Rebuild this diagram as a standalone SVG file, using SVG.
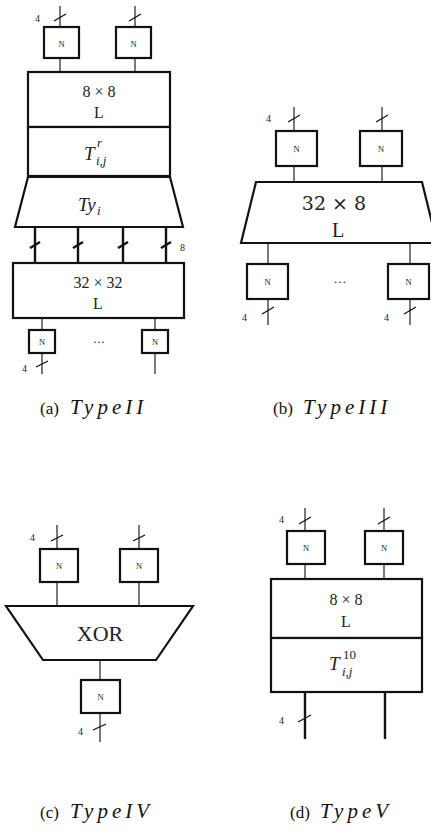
<svg xmlns="http://www.w3.org/2000/svg" width="431" height="834" viewBox="0 0 431 834">
<style>
.box{fill:#fff;stroke:#111;stroke-width:2.2}
.ln{stroke:#333;stroke-width:1.3;fill:none}
.tk{stroke:#111;stroke-width:2.4;fill:none}
.sl{stroke:#111;stroke-width:1.3}
.t{font-family:"Liberation Serif","DejaVu Serif",serif;fill:#222;text-anchor:middle}
.n{font-size:8.5px}
.s{font-size:10px;text-anchor:start}
.st{text-anchor:start}
.it{font-style:italic}
.cap{font-family:"Liberation Serif","DejaVu Serif",serif;font-size:17px;fill:#111}
.ci{font-style:italic;font-size:21px;letter-spacing:4px}
</style>
<rect width="431" height="834" fill="#fff"/>

<g id="connectors">
<path class="ln" d="M60,6V27M135,6V27M60,58V72M135,58V72M42,318V330M155,318V330M42,353V374M155,353V374"/>
<path class="sl" d="M54,21L66,14M129,21L141,14M36,367L48,361"/>
<path class="tk" d="M35,227V263M78,227V263M123,227V263M166,227V263"/>
<path class="tk" d="M30,248L40,242M73,248L83,242M118,248L128,242M161,248L171,242"/>
<path class="ln" d="M294,107V131M382,107V131M294,166V182M382,166V182M268,243V264M410,243V264M268,299V325M410,299V325"/>
<path class="sl" d="M288,122L300,115M376,122L388,115M262,314L274,307M404,314L416,307"/>
<path class="ln" d="M57,525V549M139,525V549M57,582V606M139,582V606M100,660V680M100,713V742"/>
<path class="sl" d="M51,541L63,535M133,541L145,535M93,730L106,724"/>
<path class="ln" d="M305,508V531M384,508V531M305,564V579M384,564V579"/>
<path class="sl" d="M299,524L311,517M378,524L390,517"/>
<path class="tk" d="M305,692V739M385,692V739"/>
<path class="sl" d="M298,722L311,715"/>
</g>

<g id="a-labels">
<text class="t s" x="35" y="22">4</text>
<text class="t s" x="180" y="251">8</text>
<text class="t s" x="22" y="372">4</text>
<text class="t" x="99" y="346" font-size="12">···</text>
</g>
<g id="a-n1"><rect class="box" x="44" y="27" width="35" height="31"/><text class="t n" x="61.5" y="47">N</text></g>
<g id="a-n2"><rect class="box" x="116" y="27" width="35" height="31"/><text class="t n" x="133.5" y="47">N</text></g>
<g id="a-l88"><rect class="box" x="28" y="72" width="142" height="55"/><text class="t" x="99" y="97" font-size="16">8 × 8</text><text class="t" x="99" y="118" font-size="16">L</text></g>
<g id="a-t"><rect class="box" x="28" y="127" width="142" height="49"/><text class="t it st" x="84" y="160" font-size="19">T</text><text class="t it st" x="97" y="147" font-size="13">r</text><text class="t it st" x="96" y="165" font-size="13">i,j</text></g>
<g id="a-ty"><path class="box" d="M28,177H170L183,227H15Z"/><text class="t it st" x="78" y="211" font-size="19">Ty</text><text class="t it st" x="97" y="215" font-size="13">i</text></g>
<g id="a-l3232"><rect class="box" x="13" y="263" width="171" height="55"/><text class="t" x="98" y="288" font-size="16">32 × 32</text><text class="t" x="98" y="309" font-size="16">L</text></g>
<g id="a-n3"><rect class="box" x="29" y="330" width="26" height="23"/><text class="t n" x="42" y="345">N</text></g>
<g id="a-n4"><rect class="box" x="142" y="330" width="26" height="23"/><text class="t n" x="155" y="345">N</text></g>

<g id="b-labels">
<text class="t s" x="266" y="122">4</text>
<text class="t s" x="242" y="321">4</text>
<text class="t s" x="384" y="321">4</text>
<text class="t" x="340" y="286" font-size="13">···</text>
</g>
<g id="b-n1"><rect class="box" x="276" y="131" width="41" height="35"/><text class="t n" x="296.5" y="152">N</text></g>
<g id="b-n2"><rect class="box" x="360" y="131" width="42" height="35"/><text class="t n" x="381" y="152">N</text></g>
<g id="b-l"><path class="box" d="M256,182H422L437,243H241Z"/><text class="t" x="334" y="210" font-size="19" style="font-family:'DejaVu Serif',serif">32 × 8</text><text class="t" x="338" y="237" font-size="20">L</text></g>
<g id="b-n3"><rect class="box" x="247" y="264" width="41" height="35"/><text class="t n" x="267.5" y="285">N</text></g>
<g id="b-n4"><rect class="box" x="388" y="264" width="41" height="35"/><text class="t n" x="408.5" y="285">N</text></g>

<g id="c-labels">
<text class="t s" x="30" y="541">4</text>
<text class="t s" x="78" y="735">4</text>
</g>
<g id="c-n1"><rect class="box" x="40" y="549" width="38" height="33"/><text class="t n" x="59" y="569">N</text></g>
<g id="c-n2"><rect class="box" x="120" y="549" width="38" height="33"/><text class="t n" x="139" y="569">N</text></g>
<g id="c-xor"><path class="box" d="M6,606H193L156,660H43Z"/><text class="t" x="100" y="641" font-size="22">XOR</text></g>
<g id="c-n3"><rect class="box" x="81" y="680" width="39" height="33"/><text class="t n" x="100.5" y="700">N</text></g>

<g id="d-labels">
<text class="t s" x="279" y="523">4</text>
<text class="t s" x="279" y="724">4</text>
</g>
<g id="d-n1"><rect class="box" x="287" y="531" width="38" height="33"/><text class="t n" x="306" y="551">N</text></g>
<g id="d-n2"><rect class="box" x="365" y="531" width="38" height="33"/><text class="t n" x="384" y="551">N</text></g>
<g id="d-l88"><rect class="box" x="271" y="579" width="151" height="59"/><text class="t" x="346" y="605" font-size="16">8 × 8</text><text class="t" x="346" y="627" font-size="16">L</text></g>
<g id="d-t"><rect class="box" x="271" y="638" width="151" height="54"/><text class="t it st" x="329" y="670" font-size="19">T</text><text class="t st" x="343" y="659" font-size="13">10</text><text class="t it st" x="342" y="676" font-size="13">i,j</text></g>

<g id="captions">
<text class="cap" x="40" y="414">(a)</text><text class="cap ci" x="70" y="414">TypeII</text>
<text class="cap" x="273" y="414">(b)</text><text class="cap ci" x="303" y="414">TypeIII</text>
<text class="cap" x="40" y="818">(c)</text><text class="cap ci" x="70" y="818">TypeIV</text>
<text class="cap" x="290" y="818">(d)</text><text class="cap ci" x="320" y="818">TypeV</text>
</g>
</svg>
